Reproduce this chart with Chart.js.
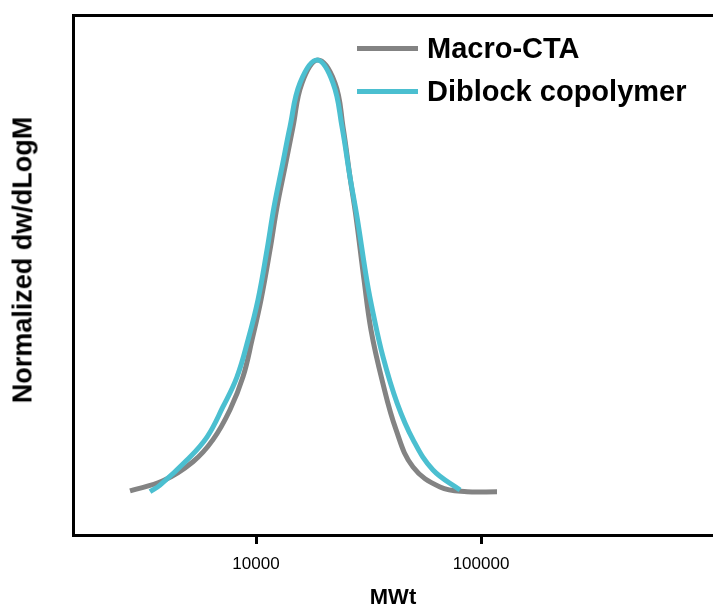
<!DOCTYPE html>
<html>
<head>
<meta charset="utf-8">
<script src="https://cdn.jsdelivr.net/npm/chart.js@4/dist/chart.umd.min.js"></script>
<style>
  body { margin: 0; background: #fff; }
  #wrap { position: relative; width: 713px; height: 615px; font-family: "Liberation Sans", Arial, sans-serif; }
  #legend { position: absolute; left: 357px; top: 27px; font-weight: bold; font-size: 29px; color: #000; }
  .item { display: flex; align-items: center; height: 43px; }
  .swatch { width: 61px; height: 5px; margin-right: 9px; }
  #ytitle { position: absolute; left: 23px; top: 260px; transform: translate(-50%, -50%) rotate(-90deg); white-space: nowrap; font-weight: bold; font-size: 27px; color: #000; }
</style>
</head>
<body>
<div id="wrap">
  <canvas id="chart"></canvas>
  <div id="legend"></div>
  <div id="ytitle"></div>
</div>
<script>
// GPC traces. x = molecular weight, y = normalized dw/dLogM
const macroLabel = "Macro-CTA"
const macroMw = [2754, 3861, 5248, 6440, 7664, 8754, 9599, 10525, 11540, 12397, 13455, 14603, 16012, 18862,
  22445, 24360, 26169, 27826, 30200, 32443, 36311, 41904, 49866, 65734, 86660, 117800]
const macroY = [0.002, 0.025, 0.069, 0.120, 0.189, 0.265, 0.350, 0.443, 0.558, 0.657, 0.749, 0.842, 0.943, 0.996,
  0.943, 0.842, 0.726, 0.634, 0.489, 0.373, 0.258, 0.143, 0.057, 0.011, 0.0, 0.0]

const diblockLabel = "Diblock copolymer"
const diblockMw = [3380, 3744, 4935, 6056, 7134, 8233, 9214, 10207, 11191, 12023, 13048, 14162, 15688, 18670,
  21990, 24112, 26169, 28113, 31142, 33114, 36683, 42335, 49866, 61189, 80670]
const diblockY = [0.0, 0.015, 0.073, 0.126, 0.196, 0.265, 0.350, 0.443, 0.558, 0.657, 0.749, 0.842, 0.943, 0.996,
  0.943, 0.842, 0.726, 0.634, 0.485, 0.413, 0.311, 0.205, 0.120, 0.050, 0.004]

const xTicks = [10000, 100000]
const xTitle = "MWt"
const yTitle = "Normalized dw/dLogM"

const GRAY = "#838383"
const CYAN = "#4bbfd0"
const FONT = "'Liberation Sans', Arial, sans-serif"

const toPoints = (xs, ys) => xs.map((x, i) => ({ x: x, y: ys[i] }))

const series = [
  { label: macroLabel, data: toPoints(macroMw, macroY), color: GRAY, order: 1 },
  { label: diblockLabel, data: toPoints(diblockMw, diblockY), color: CYAN, order: 0 }
]

new Chart(document.getElementById("chart"), {
  type: "line",
  data: {
    datasets: series.map((s) => ({
      label: s.label,
      data: s.data,
      order: s.order,
      borderColor: s.color,
      backgroundColor: s.color,
      borderWidth: 5,
      pointRadius: 0,
      fill: false,
      tension: 0.4
    }))
  },
  options: {
    responsive: true,
    maintainAspectRatio: false,
    animation: false,
    layout: { padding: 0 },
    plugins: {
      legend: { display: false },
      tooltip: { enabled: false }
    },
    scales: {
      x: {
        type: "logarithmic",
        position: "bottom",
        min: 1537,
        max: 1074000,
        afterBuildTicks: (axis) => { axis.ticks = xTicks.map((v) => ({ value: v })) },
        afterFit: (axis) => { axis.height = 80 },
        ticks: {
          color: "#000",
          font: { family: FONT, size: 17 },
          padding: 10,
          maxRotation: 0,
          callback: (v) => String(v)
        },
        grid: { drawOnChartArea: false, drawTicks: true, tickLength: 9, tickWidth: 3, tickColor: "#000", lineWidth: 3, color: "#000" },
        border: { display: true, width: 3, color: "#000" },
        title: { display: true, text: xTitle, color: "#000", font: { family: FONT, size: 22, weight: "bold" }, padding: { top: 0, bottom: 4 } }
      },
      xTop: {
        type: "linear",
        position: "top",
        afterFit: (axis) => { axis.height = 15 },
        ticks: { display: false },
        grid: { display: false },
        border: { display: true, width: 3, color: "#000" }
      },
      y: {
        type: "linear",
        min: -0.1,
        max: 1.1,
        afterFit: (axis) => { axis.width = 73 },
        ticks: { display: false },
        grid: { display: false },
        border: { display: true, width: 3, color: "#000" }
      }
    }
  }
})

// y title sits a bit above the middle in the original, so it is placed in html
document.getElementById("ytitle").textContent = yTitle

// legend as html, placed inside the plot
const legend = document.getElementById("legend")
series.forEach((s) => {
  const row = document.createElement("div")
  row.className = "item"
  const sw = document.createElement("span")
  sw.className = "swatch"
  sw.style.background = s.color
  const txt = document.createElement("span")
  txt.textContent = s.label
  row.appendChild(sw)
  row.appendChild(txt)
  legend.appendChild(row)
})
</script>
</body>
</html>
